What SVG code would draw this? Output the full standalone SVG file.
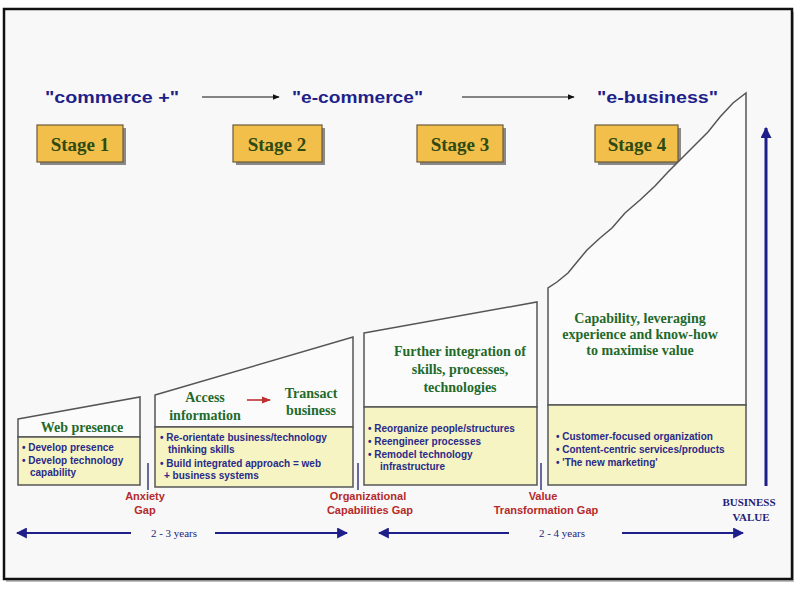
<svg xmlns="http://www.w3.org/2000/svg" width="802" height="596" viewBox="0 0 802 596">
<defs>
<style>
.hdr{font-family:"Liberation Sans",Arial,sans-serif;font-weight:bold;font-size:17px;fill:#1f1f8a}
.stg{font-family:"Liberation Serif","Times New Roman",serif;font-weight:bold;font-size:19px;fill:#2f4a12;text-anchor:middle}
.stgbox{fill:#f2c04a;stroke:#6b5a3a;stroke-width:1.2}
.shadow{fill:#8a8a8a}
.ttl{font-family:"Liberation Serif","Times New Roman",serif;font-weight:bold;font-size:14px;fill:#1f6a2a;text-anchor:middle}
.bul{font-family:"Liberation Sans",Arial,sans-serif;font-weight:bold;font-size:10px;fill:#2a2a8a}
.gap{font-family:"Liberation Sans",Arial,sans-serif;font-weight:bold;font-size:11px;fill:#b52a2a;text-anchor:middle}
.yrs{font-family:"Liberation Serif","Times New Roman",serif;font-size:11px;fill:#1f1f7a;text-anchor:middle}
.bv{font-family:"Liberation Serif","Times New Roman",serif;font-weight:bold;font-size:11px;fill:#1f1f7a;text-anchor:middle}
.top{fill:#fbfbfb;stroke:#555;stroke-width:1.5}
.yel{fill:#f6f4c2;stroke:#555;stroke-width:1.5}
.gline{stroke:#6a6a9a;stroke-width:2}
</style>
<marker id="ab" viewBox="0 0 10 10" refX="9" refY="5" markerWidth="7" markerHeight="7" orient="auto-start-reverse" markerUnits="userSpaceOnUse"><path d="M0,1 L10,5 L0,9 z" fill="#111"/></marker>
<marker id="ar" viewBox="0 0 10 10" refX="9" refY="5" markerWidth="9" markerHeight="9" orient="auto-start-reverse" markerUnits="userSpaceOnUse"><path d="M0,1 L10,5 L0,9 z" fill="#c03030"/></marker>
<marker id="abl" viewBox="0 0 10 10" refX="9" refY="5" markerWidth="11" markerHeight="11" orient="auto-start-reverse" markerUnits="userSpaceOnUse"><path d="M0,0 L10,5 L0,10 z" fill="#1f1f8a"/></marker>
</defs>
<rect x="0" y="0" width="802" height="596" fill="#ffffff"/>
<rect x="6" y="12" width="788" height="570" fill="#bdbdbd"/>
<rect x="4" y="9" width="788" height="570" fill="#f8f8f8" stroke="#111" stroke-width="2.5"/>

<g id="headers">
<text class="hdr" x="45" y="103" textLength="134" lengthAdjust="spacingAndGlyphs">"commerce +"</text>
<text class="hdr" x="292" y="103" textLength="131" lengthAdjust="spacingAndGlyphs">"e-commerce"</text>
<text class="hdr" x="597" y="103" textLength="121" lengthAdjust="spacingAndGlyphs">"e-business"</text>
</g>

<g id="stage1">
<rect class="shadow" x="40" y="128" width="86" height="37"/>
<rect class="stgbox" x="37" y="125" width="86" height="37"/>
<text class="stg" x="80" y="151">Stage 1</text>
</g>
<g id="stage2">
<rect class="shadow" x="236" y="128" width="89" height="37"/>
<rect class="stgbox" x="233" y="125" width="89" height="37"/>
<text class="stg" x="277" y="151">Stage 2</text>
</g>
<g id="stage3">
<rect class="shadow" x="420" y="128" width="86" height="37"/>
<rect class="stgbox" x="417" y="125" width="86" height="37"/>
<text class="stg" x="460" y="151">Stage 3</text>
</g>
<g id="stage4">
<rect class="shadow" x="598" y="128" width="83" height="37"/>
<rect class="stgbox" x="595" y="125" width="83" height="37"/>
<text class="stg" x="637" y="151">Stage 4</text>
</g>

<g id="box1">
<polygon class="top" points="18,419 140,397 140,437 18,437"/>
<rect class="yel" x="18" y="437" width="122" height="48"/>
<text class="ttl" x="82" y="432" font-size="15">Web presence</text>
<text class="bul" x="22" y="451">• Develop presence</text>
<text class="bul" x="22" y="464">• Develop technology</text>
<text class="bul" x="30" y="476">capability</text>
</g>

<g id="box2">
<polygon class="top" points="155,395 353,337 353,427 155,427"/>
<rect class="yel" x="155" y="427" width="198" height="60"/>
<text class="ttl" x="205" y="402">Access</text>
<text class="ttl" x="205" y="420">information</text>
<text class="ttl" x="311" y="398">Transact</text>
<text class="ttl" x="311" y="415">business</text>
<text class="bul" x="160" y="441" font-size="9">• Re-orientate business/technology</text>
<text class="bul" x="168" y="453" font-size="9">thinking skills</text>
<text class="bul" x="160" y="467">• Build integrated approach = web</text>
<text class="bul" x="164" y="479" font-size="9">+ business systems</text>
</g>

<g id="box3">
<polygon class="top" points="364,333 537,302 537,407 364,407"/>
<rect class="yel" x="364" y="407" width="173" height="78"/>
<text class="ttl" x="460" y="356">Further integration of</text>
<text class="ttl" x="460" y="374" font-size="12">skills, processes,</text>
<text class="ttl" x="460" y="392">technologies</text>
<text class="bul" x="368" y="432">• Reorganize people/structures</text>
<text class="bul" x="368" y="445">• Reengineer processes</text>
<text class="bul" x="368" y="458">• Remodel technology</text>
<text class="bul" x="380" y="470" font-size="9">infrastructure</text>
</g>

<g id="box4">
<path class="top" d="M548,405 L548,288 L557,282 L568,273 L577,262 L587,250 L600,238 L612,228 L625,213 L640,200 L655,186 L668,172 L683,157 L697,143 L708,132 L720,117 L733,103 L746,93 L746,405 Z"/>
<rect class="yel" x="548" y="405" width="198" height="80"/>
<text class="ttl" x="640" y="323" font-size="13">Capability, leveraging</text>
<text class="ttl" x="640" y="339" font-size="13">experience and know-how</text>
<text class="ttl" x="640" y="355" font-size="13">to maximise value</text>
<text class="bul" x="556" y="440" font-size="9.5">• Customer-focused organization</text>
<text class="bul" x="556" y="453" font-size="9.5">• Content-centric services/products</text>
<text class="bul" x="556" y="466" font-size="9.5">• 'The new marketing'</text>
</g>

<g id="gaps">
<line class="gline" x1="148" y1="463" x2="148" y2="490"/>
<line class="gline" x1="358" y1="463" x2="358" y2="490"/>
<line class="gline" x1="541" y1="463" x2="541" y2="490"/>
<text class="gap" x="145" y="500">Anxiety</text>
<text class="gap" x="145" y="514">Gap</text>
<text class="gap" x="368" y="500">Organizational</text>
<text class="gap" x="370" y="514">Capabilities Gap</text>
<text class="gap" x="543" y="500">Value</text>
<text class="gap" x="546" y="514">Transformation Gap</text>
</g>

<g id="business-value">
<text class="bv" x="749" y="506" font-size="10">BUSINESS</text>
<text class="bv" x="751" y="521">VALUE</text>
</g>

<g id="connectors">
<line x1="202" y1="97" x2="279" y2="97" stroke="#111" stroke-width="1.2" marker-end="url(#ab)"/>
<line x1="462" y1="97" x2="574" y2="97" stroke="#111" stroke-width="1.2" marker-end="url(#ab)"/>
<line x1="247" y1="400" x2="270" y2="400" stroke="#c03030" stroke-width="1.6" marker-end="url(#ar)"/>
<line x1="766" y1="486" x2="766" y2="128" stroke="#1f1f8a" stroke-width="3" marker-end="url(#abl)"/>
<line x1="131" y1="533" x2="17" y2="533" stroke="#1f1f8a" stroke-width="2" marker-end="url(#abl)"/>
<line x1="215" y1="533" x2="347" y2="533" stroke="#1f1f8a" stroke-width="2" marker-end="url(#abl)"/>
<line x1="509" y1="533" x2="379" y2="533" stroke="#1f1f8a" stroke-width="2" marker-end="url(#abl)"/>
<line x1="622" y1="533" x2="743" y2="533" stroke="#1f1f8a" stroke-width="2" marker-end="url(#abl)"/>
<text class="yrs" x="174" y="537">2 - 3 years</text>
<text class="yrs" x="562" y="537">2 - 4 years</text>
</g>
</svg>
